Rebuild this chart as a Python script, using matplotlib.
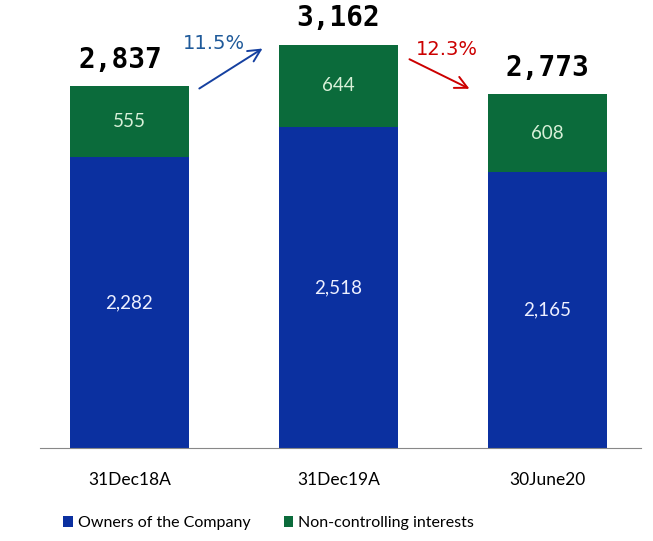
import matplotlib.pyplot as plt

periods = ["31Dec18A", "31Dec19A", "30June20"]
owners = [2282, 2518, 2165]
nci = [555, 644, 608]
totals = [2837, 3162, 2773]
growth = ["11.5%", "12.3%"]

blue = "#0b30a0"
green = "#0b6b3b"

fig = plt.figure(figsize=(6.53, 5.41), dpi=100)
ax = fig.add_axes([0.0613, 0.172, 0.920, 0.828])

x = range(len(periods))
b1 = ax.bar(x, owners, width=0.57, color=blue, label="Owners of the Company")
b2 = ax.bar(x, nci, width=0.57, bottom=owners, color=green, label="Non-controlling interests")

for i in x:
    ax.text(i, owners[i] / 2, f"{owners[i]:,}", ha="center", va="center",
            color="#eef0ff", fontsize=13.5, family="Lato")
    ax.text(i, owners[i] + nci[i] / 2, f"{nci[i]:,}", ha="center", va="center",
            color="#d8f0d8", fontsize=13.5, family="Lato")
    ax.text(i - 0.045 if i == 0 else i, totals[i] + 100, f"{totals[i]:,}", ha="center",
            va="bottom", fontsize=20, fontweight="bold", family="DejaVu Sans Mono")

# growth arrows
ax.annotate("", xy=(0.648, 3145), xytext=(0.323, 2808),
            arrowprops=dict(arrowstyle="->", color="#1540a0", lw=1.4, mutation_scale=22))
ax.text(0.404, 3176, growth[0], ha="center", va="center", color="#1f5a9a", fontsize=14)
ax.annotate("", xy=(1.639, 2808), xytext=(1.328, 3059),
            arrowprops=dict(arrowstyle="->", color="#cc0000", lw=1.4, mutation_scale=22))
ax.text(1.519, 3122, growth[1], ha="center", va="center", color="#cc0000", fontsize=14)

ax.set_xlim(-0.428, 2.447)
ax.set_ylim(0, 3514)
ax.set_yticks([])
ax.set_xticks(list(x))
ax.set_xticklabels(periods, family="Lato", fontsize=12.5)
ax.tick_params(axis="x", length=0, pad=17)
for s in ["top", "right", "left"]:
    ax.spines[s].set_visible(False)
ax.spines["bottom"].set_color("#888888")

leg = fig.legend(handles=[b1, b2], loc="center left", bbox_to_anchor=(0.075, 0.033),
                 ncol=2, frameon=False, handlelength=0.6, handleheight=0.6,
                 handletextpad=0.3, columnspacing=2.1,
                 prop={"family": "Lato", "size": 11.5})

fig.savefig("out.png", dpi=100)
